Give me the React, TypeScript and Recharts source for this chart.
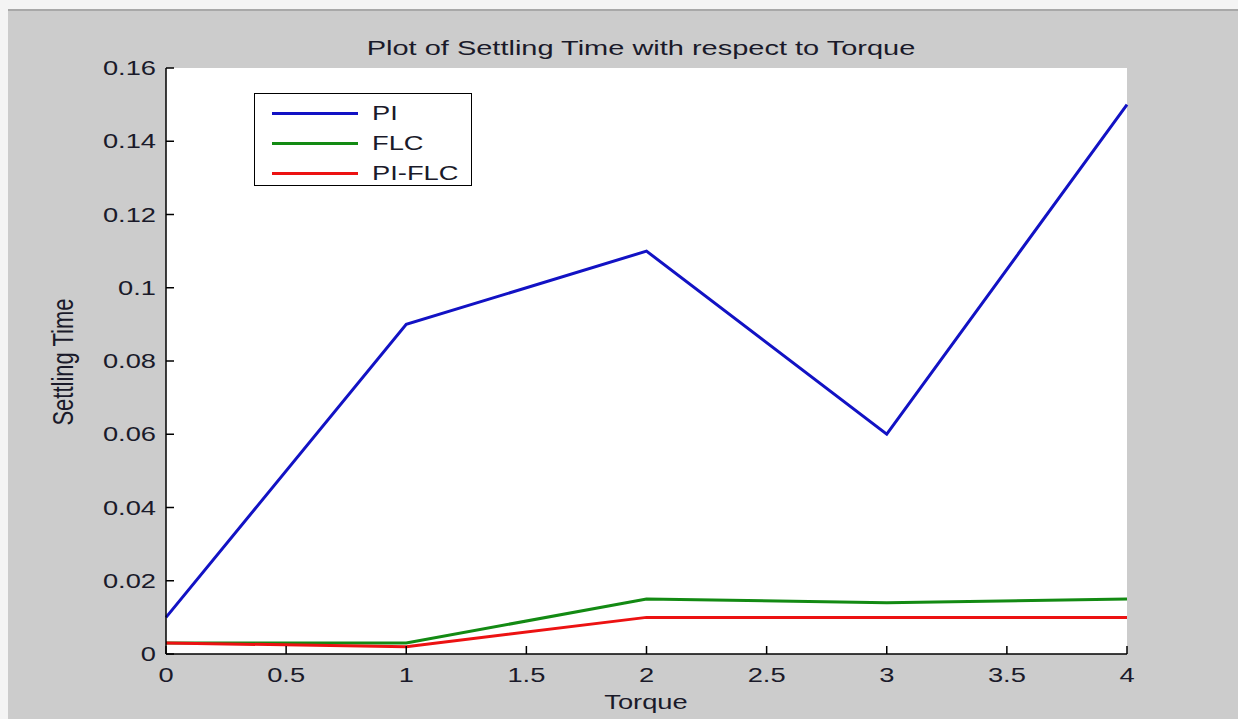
import { LineChart, Line, XAxis, YAxis, CartesianGrid, Legend } from 'recharts';

const torque = [0, 1, 2, 3, 4];
const piValues = [0.01, 0.09, 0.11, 0.06, 0.15];
const flcValues = [0.003, 0.003, 0.015, 0.014, 0.015];
const piFlcValues = [0.003, 0.002, 0.01, 0.01, 0.01];

const xTicks = [0, 0.5, 1, 1.5, 2, 2.5, 3, 3.5, 4];
const yTicks = [0, 0.02, 0.04, 0.06, 0.08, 0.1, 0.12, 0.14, 0.16];

const seriesInfo = [
  { key: 'pi', name: 'PI', color: '#1212c4' },
  { key: 'flc', name: 'FLC', color: '#138a13' },
  { key: 'piflc', name: 'PI-FLC', color: '#ec1212' },
];

const data = torque.map((t, i) => ({
  torque: t,
  pi: piValues[i],
  flc: flcValues[i],
  piflc: piFlcValues[i],
}));

const FONT = '"Liberation Sans", Arial, sans-serif';
const SX = 1.3;
const TICK = 8;

function BottomTick({ x, y, payload }: any) {
  return (
    <g>
      <line x1={x} y1={y} x2={x} y2={y - TICK} stroke="#000" strokeWidth={1.5} />
      <text
        transform={`translate(${x},${y + 28}) scale(${SX},1)`}
        textAnchor="middle"
        fontSize={21}
        fontFamily={FONT}
        fill="#1a1a2a"
      >
        {String(payload.value)}
      </text>
    </g>
  );
}

function LeftTick({ x, y, payload }: any) {
  return (
    <g>
      <line x1={x} y1={y} x2={x + TICK} y2={y} stroke="#000" strokeWidth={1.5} />
      <text
        transform={`translate(${x - 10},${y + 7}) scale(${SX},1)`}
        textAnchor="end"
        fontSize={21}
        fontFamily={FONT}
        fill="#1a1a2a"
      >
        {String(payload.value)}
      </text>
    </g>
  );
}

function TopTick({ x, y }: any) {
  return <line x1={x} y1={y} x2={x} y2={y + TICK} stroke="#000" strokeWidth={1.5} />;
}

function RightTick({ x, y }: any) {
  return <line x1={x} y1={y} x2={x - TICK} y2={y} stroke="#000" strokeWidth={1.5} />;
}

function LegendBox() {
  return (
    <div
      style={{
        width: 218,
        height: 93,
        border: '1.5px solid #000',
        background: '#fff',
        boxSizing: 'border-box',
        paddingTop: 4,
      }}
    >
      {seriesInfo.map((s) => (
        <div key={s.key} style={{ display: 'flex', alignItems: 'center', height: 30 }}>
          <div style={{ marginLeft: 17, width: 86, height: 3, background: s.color }} />
          <span
            style={{
              marginLeft: 14,
              fontFamily: FONT,
              fontSize: 21,
              color: '#1a1a2a',
              display: 'inline-block',
              transform: `scale(${SX},1)`,
              transformOrigin: 'left center',
            }}
          >
            {s.name}
          </span>
        </div>
      ))}
    </div>
  );
}

export default function App() {
  return (
    <div style={{ position: 'fixed', left: 0, top: 0, width: 1238, height: 719, background: '#f4f4f4', overflow: 'hidden' }}>
      <div style={{ position: 'absolute', left: 8, top: 9, width: 1230, height: 2, background: '#a8a8a8' }} />
      <div style={{ position: 'absolute', left: 8, top: 11, width: 1230, height: 708, background: '#cccccc' }} />
      <div style={{ position: 'absolute', left: 0, top: 0 }}>
        <LineChart width={1238} height={719} data={data} margin={{ top: 68, right: 111, left: 86, bottom: 15 }}>
          <CartesianGrid fill="#ffffff" stroke="none" />
          <XAxis
            dataKey="torque"
            type="number"
            domain={[0, 4]}
            ticks={xTicks}
            interval={0}
            height={50}
            tickSize={0}
            tickMargin={0}
            tickLine={false}
            axisLine={{ stroke: '#000', strokeWidth: 1.5 }}
            tick={<BottomTick />}
          />
          <XAxis
            xAxisId="top"
            orientation="top"
            dataKey="torque"
            type="number"
            domain={[0, 4]}
            ticks={xTicks}
            interval={0}
            height={0}
            tickSize={0}
            tickMargin={0}
            tickLine={false}
            axisLine={{ stroke: '#000', strokeWidth: 1.5 }}
            tick={<TopTick />}
          />
          <YAxis
            type="number"
            domain={[0, 0.16]}
            ticks={yTicks}
            interval={0}
            width={80}
            tickSize={0}
            tickMargin={0}
            tickLine={false}
            axisLine={{ stroke: '#000', strokeWidth: 1.5 }}
            tick={<LeftTick />}
          />
          <YAxis
            yAxisId="right"
            orientation="right"
            type="number"
            domain={[0, 0.16]}
            ticks={yTicks}
            interval={0}
            width={0}
            tickSize={0}
            tickMargin={0}
            tickLine={false}
            axisLine={{ stroke: '#000', strokeWidth: 1.5 }}
            tick={<RightTick />}
          />
          {seriesInfo.map((s) => (
            <Line
              key={s.key}
              type="linear"
              dataKey={s.key}
              name={s.name}
              stroke={s.color}
              strokeWidth={3}
              dot={false}
              activeDot={false}
              isAnimationActive={false}
            />
          ))}
          <Legend
            layout="vertical"
            align="center"
            verticalAlign="middle"
            content={<LegendBox />}
            wrapperStyle={{ position: 'absolute', left: 254, top: 93, width: 'auto', height: 'auto' }}
          />
        </LineChart>
      </div>
      <svg width={1238} height={719} style={{ position: 'absolute', left: 0, top: 0, pointerEvents: 'none' }}>
        <text
          transform={`translate(641,55) scale(1.38,1)`}
          textAnchor="middle"
          fontSize={21}
          fontFamily={FONT}
          fill="#1a1a2a"
        >
          Plot of Settling Time with respect to Torque
        </text>
        <text
          transform={`translate(646,709) scale(${SX},1)`}
          textAnchor="middle"
          fontSize={21}
          fontFamily={FONT}
          fill="#1a1a2a"
        >
          Torque
        </text>
        <text
          transform={`translate(73,362) scale(${SX},1) rotate(-90)`}
          textAnchor="middle"
          fontSize={22}
          fontFamily={FONT}
          fill="#1a1a2a"
        >
          Settling Time
        </text>
      </svg>
    </div>
  );
}
